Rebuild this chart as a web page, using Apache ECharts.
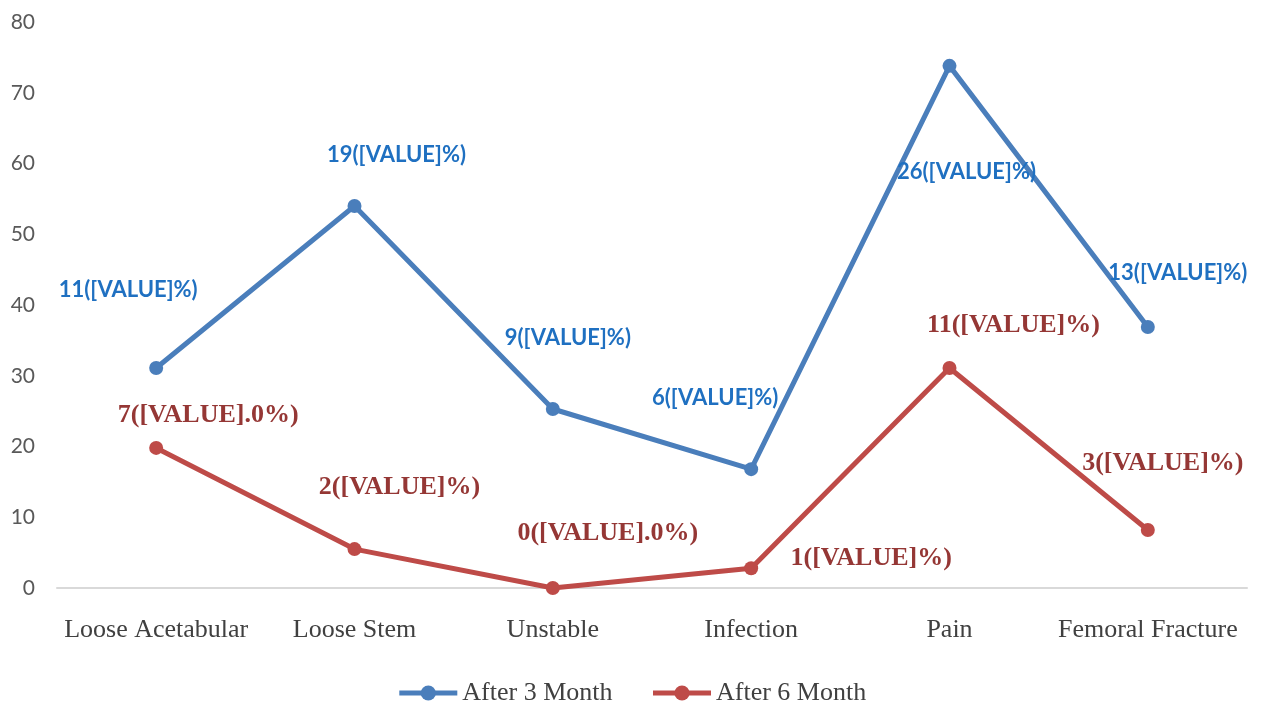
<!DOCTYPE html>
<html>
<head>
<meta charset="utf-8">
<script src="https://cdn.jsdelivr.net/npm/echarts@6/dist/echarts.min.js"></script>
<style>
html,body{margin:0;padding:0;background:#fff;}
#chart{width:1263px;height:708px;}
</style>
</head>
<body>
<div id="chart"></div>
<script>
var categories = ['Loose Acetabular', 'Loose Stem', 'Unstable', 'Infection', 'Pain', 'Femoral Fracture'];
var after3 = [31.1, 54, 25.3, 16.8, 73.8, 36.9];
var after6 = [19.8, 5.5, 0, 2.8, 31.1, 8.2];
var after3Labels = ['11([VALUE]%)', '19([VALUE]%)', '9([VALUE]%)', '6([VALUE]%)', '26([VALUE]%)', '13([VALUE]%)'];
var after6Labels = ['7([VALUE].0%)', '2([VALUE]%)', '0([VALUE].0%)', '1([VALUE]%)', '11([VALUE]%)', '3([VALUE]%)'];
var yTicks = [0, 80, 10];

// label placement (px from the point)
var off3 = [[-28, -78], [42, -51], [15, -71], [-36, -71], [17, 106], [30, -54]];
var off6 = [[52, -33], [45, -62], [55, -55], [120, -10], [64, -43], [15, -67]];

function build(vals, labels, offs) {
	return vals.map(function(v, i){
		return {
			value: v,
			label: { formatter: labels[i], offset: offs[i] }
		};
	});
}

var myChart = echarts.init(document.getElementById('chart'));
var option = {
	animation: false,
	grid: { left: 57, right: 16, top: 22, bottom: 120 },
	legend: {
		bottom: -3,
		left: 'center',
		itemWidth: 58,
		itemHeight: 19,
		itemGap: 38,
		lineStyle: { width: 5 },
		textStyle: { fontFamily: 'Liberation Serif', fontSize: 26, color: '#404040' },
		data: ['After 3 Month', 'After 6 Month']
	},
	xAxis: {
		type: 'category',
		data: categories,
		axisLine: { lineStyle: { color: '#d9d9d9', width: 2 } },
		axisTick: { show: false },
		axisLabel: { interval: 0, margin: 29, fontFamily: 'Liberation Serif', fontSize: 26, color: '#404040' }
	},
	yAxis: {
		type: 'value',
		min: yTicks[0],
		max: yTicks[1],
		interval: yTicks[2],
		splitLine: { show: false },
		axisLine: { show: false },
		axisTick: { show: false },
		axisLabel: { margin: 22, fontFamily: 'Lato', fontSize: 21, color: '#595959' }
	},
	series: [
		{
			name: 'After 3 Month',
			type: 'line',
			data: build(after3, after3Labels, off3),
			symbol: 'circle',
			symbolSize: 14,
			lineStyle: { width: 5, color: '#4a7ebb' },
			itemStyle: { color: '#4a7ebb' },
			label: {
				show: true,
				position: 'inside',
				fontFamily: 'Lato',
				fontWeight: 'bold',
				fontSize: 22,
				color: '#1f70c1'
			}
		},
		{
			name: 'After 6 Month',
			type: 'line',
			data: build(after6, after6Labels, off6),
			symbol: 'circle',
			symbolSize: 14,
			lineStyle: { width: 5, color: '#be4b48' },
			itemStyle: { color: '#be4b48' },
			label: {
				show: true,
				position: 'inside',
				fontFamily: 'Liberation Serif',
				fontWeight: 'bold',
				fontSize: 26,
				color: '#953735'
			}
		}
	]
};
myChart.setOption(option);
</script>
</body>
</html>
